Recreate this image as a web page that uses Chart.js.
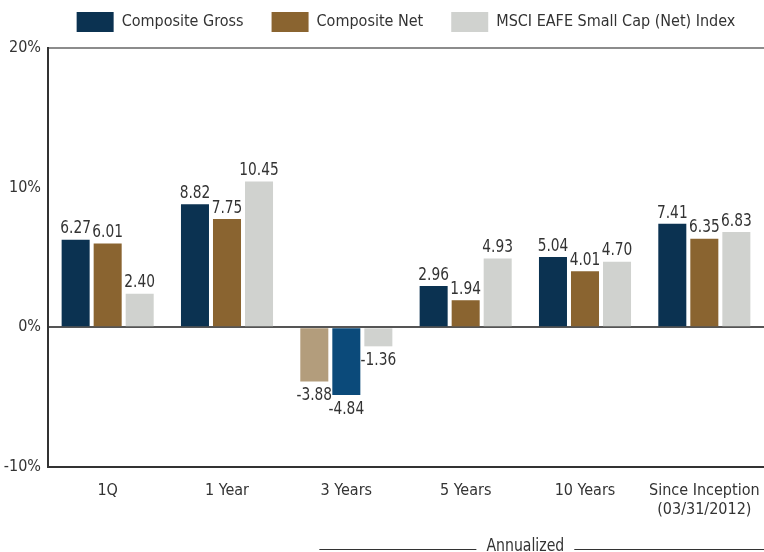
<!DOCTYPE html>
<html lang="en">
<head>
    <meta charset="UTF-8">
    <title>Composite returns</title>
    <script src="https://cdn.jsdelivr.net/npm/chart.js@4.4.1/dist/chart.umd.min.js"></script>
    <style>
        html, body { margin: 0; padding: 0; background: #fff; }
        #wrap { width: 764px; height: 552px; }
    </style>
</head>
<body>
<div id="wrap"><canvas id="myChart"></canvas></div>
<script>
    const FONT = "'DejaVu Sans', sans-serif";

    const categories = ["1Q", "1 Year", "3 Years", "5 Years", "10 Years", ["Since Inception", "(03/31/2012)"]];
    const grossValues = [6.27, 8.82, -3.88, 2.96, 5.04, 7.41];
    const netValues = [6.01, 7.75, -4.84, 1.94, 4.01, 6.35];
    const indexValues = [2.40, 10.45, -1.36, 4.93, 4.70, 6.83];
    const yTicks = [-10, 0, 10, 20];

    // the 3 Years bars come in odd shades in the original
    const grossColors = ["#0b3251", "#0b3251", "#b39d7c", "#0b3251", "#0b3251", "#0b3251"];
    const netColors = ["#8a6430", "#8a6430", "#0b4a7a", "#8a6430", "#8a6430", "#8a6430"];
    const indexColor = "#d0d2cf";

    // narrow text, a bit like the condensed face of the original
    function narrowText(ctx, text, x, y, sx) {
        ctx.save();
        ctx.translate(x, y);
        ctx.scale(sx, 1);
        ctx.fillText(text, 0, 0);
        ctx.restore();
    }

    const valueLabels = {
        id: "valueLabels",
        afterDatasetsDraw(chart) {
            const ctx = chart.ctx;
            ctx.save();
            ctx.font = "condensed 18px " + FONT;
            ctx.fillStyle = "#333";
            ctx.textAlign = "center";
            chart.data.datasets.forEach((ds, i) => {
                chart.getDatasetMeta(i).data.forEach((bar, j) => {
                    const v = ds.data[j];
                    if (v >= 0) {
                        ctx.textBaseline = "bottom";
                        narrowText(ctx, v.toFixed(2), bar.x, bar.y - 2, 0.85);
                    } else {
                        ctx.textBaseline = "top";
                        narrowText(ctx, v.toFixed(2), bar.x, bar.y + 5, 0.85);
                    }
                });
            });
            ctx.restore();
        }
    };

    const annualized = {
        id: "annualized",
        afterDraw(chart) {
            const ctx = chart.ctx;
            const xs = chart.scales.x;
            const cx = (xs.getPixelForValue(3) + xs.getPixelForValue(4)) / 2;
            const y = 546;
            ctx.save();
            ctx.font = "condensed 18px " + FONT;
            ctx.fillStyle = "#333";
            ctx.textAlign = "center";
            ctx.textBaseline = "middle";
            narrowText(ctx, "Annualized", cx, y, 0.87);
            const half = ctx.measureText("Annualized").width * 0.87 / 2 + 10;
            ctx.strokeStyle = "#333";
            ctx.lineWidth = 1;
            ctx.beginPath();
            ctx.moveTo(xs.getPixelForValue(2) - 27, 549.5);
            ctx.lineTo(cx - half, 549.5);
            ctx.moveTo(cx + half, 549.5);
            ctx.lineTo(chart.width, 549.5);
            ctx.stroke();
            ctx.restore();
        }
    };

    const legendPlace = {
        id: "legendPlace",
        beforeInit(chart) {
            const fit = chart.legend.fit;
            chart.legend.fit = function () {
                fit.bind(chart.legend)();
                this.height = 48;
            };
        },
        afterLayout(chart) {
            // pull the legend row up, the label padding also pads its top
            chart.legend.top -= 16;
            chart.legend.bottom -= 16;
        }
    };

    const myChart = new Chart("myChart", {
        type: "bar",
        data: {
            labels: categories,
            datasets: [
                { label: "Composite Gross", data: grossValues, backgroundColor: grossColors },
                { label: "Composite Net", data: netValues, backgroundColor: netColors },
                { label: "MSCI EAFE Small Cap (Net) Index", data: indexValues, backgroundColor: indexColor }
            ]
        },
        options: {
            responsive: true,
            maintainAspectRatio: false,
            animation: false,
            layout: { padding: 0 },
            datasets: {
                bar: { categoryPercentage: 0.805, barPercentage: 0.875 }
            },
            plugins: {
                tooltip: { enabled: false },
                legend: {
                    position: "top",
                    fullSize: false,
                    labels: {
                        boxWidth: 37,
                        boxHeight: 20,
                        padding: 28,
                        color: "#333",
                        font: { family: FONT, size: 16, weight: "condensed" },
                        generateLabels(chart) {
                            const fills = [grossColors[0], netColors[0], indexColor];
                            return chart.data.datasets.map((ds, i) => ({
                                text: ds.label,
                                fillStyle: fills[i],
                                strokeStyle: fills[i],
                                lineWidth: 0,
                                datasetIndex: i,
                                fontColor: "#333"
                            }));
                        }
                    }
                }
            },
            scales: {
                x: {
                    grid: { display: false },
                    border: { color: "#333", width: 2 },
                    ticks: {
                        color: "#333",
                        padding: 6,
                        maxRotation: 0,
                        autoSkip: false,
                        font: { family: FONT, size: 16, weight: "condensed" }
                    },
                    afterFit(scale) {
                        scale.height = 85;
                        scale.paddingLeft = 0;
                        scale.paddingRight = 0;
                    }
                },
                y: {
                    min: -10,
                    max: 20,
                    afterBuildTicks(scale) { scale.ticks = yTicks.map(v => ({ value: v })); },
                    border: { color: "#333", width: 2 },
                    grid: {
                        drawTicks: false,
                        lineWidth: 2,
                        color(c) {
                            if (c.tick.value === 0) return "#555";
                            if (c.tick.value === 20) return "#8c8c8c";
                            return "rgba(0,0,0,0)";
                        }
                    },
                    ticks: {
                        color: "#333",
                        padding: 7,
                        font: { family: FONT, size: 16, weight: "condensed" },
                        callback: v => v + "%"
                    },
                    afterFit(scale) { scale.width = 48; }
                }
            }
        },
        plugins: [valueLabels, annualized, legendPlace]
    });
</script>
</body>
</html>
